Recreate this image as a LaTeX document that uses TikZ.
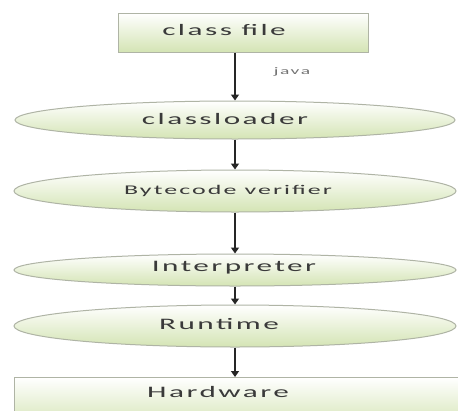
\documentclass[tikz,border=0pt]{standalone}
\usepackage{fontspec}
\usepackage{graphicx}
\newfontfamily\lbl[LetterSpace=8]{Carlito}
\newcommand\widetext[1]{\scalebox{1.95}[1]{#1}}
\usetikzlibrary{shapes.geometric,arrows.meta}
\definecolor{gbot}{RGB}{212,228,180}
\definecolor{gedge}{RGB}{175,180,165}
\definecolor{txt}{RGB}{58,58,58}
\tikzset{
  boxshape/.style={rectangle, draw=gedge, line width=1pt, top color=white, bottom color=gbot, inner sep=0pt},
  ovalshape/.style={ellipse, draw=gedge, line width=1pt, top color=white, bottom color=gbot, inner sep=0pt},
  lab/.style={font=\lbl\fontsize{16}{18}\selectfont, text=txt, inner sep=0pt},
  smalllab/.style={font=\lbl\fontsize{13.3}{15}\selectfont, text=txt, inner sep=0pt},
  flow/.style={-{Triangle[length=6pt,width=8pt]}, line width=1.4pt, draw=black!85}
}
\begin{document}
\begin{tikzpicture}[x=1pt,y=-1pt]
\clip (0,0) rectangle (458,410);
\fill[white] (0,0) rectangle (458,410);
\node[boxshape, minimum width=250pt, minimum height=39pt] (cf) at (243,32.5) {};
\node[lab] (cft) at (224,30) {\widetext{class file}};
\node[ovalshape, minimum width=440pt, minimum height=38pt] (cl) at (235,120) {};
\node[lab] (clt) at (225,119) {\widetext{classloader}};
\node[ovalshape, minimum width=442pt, minimum height=42pt] (bv) at (235,191) {};
\node[smalllab] (bvt) at (228,191) {\widetext{Bytecode verifier}};
\node[ovalshape, minimum width=442pt, minimum height=32pt] (ip) at (235,270) {};
\node[lab] (ipt) at (234,268) {\widetext{Interpreter}};
\node[ovalshape, minimum width=442pt, minimum height=42pt] (rt) at (235,326) {};
\node[lab] (rtt) at (219,324) {\widetext{Runtime}};
\node[boxshape, minimum width=460pt, minimum height=50pt, anchor=north west] (hw) at (14,377) {};
\node[lab] (hwt) at (218,392) {\widetext{Hardware}};
\node[font=\lbl\fontsize{10}{12}\selectfont, text=black!55, inner sep=0pt] (jv) at (292,72) {\widetext{java}};
\draw[flow] (cf.south -| cl.north) -- (cl.north);
\draw[flow] (cl.south) -- (bv.north);
\draw[flow] (bv.south) -- (ip.north);
\draw[flow] (ip.south) -- (rt.north);
\draw[flow] (rt.south) -- (rt.south |- hw.north);
\end{tikzpicture}
\end{document}
